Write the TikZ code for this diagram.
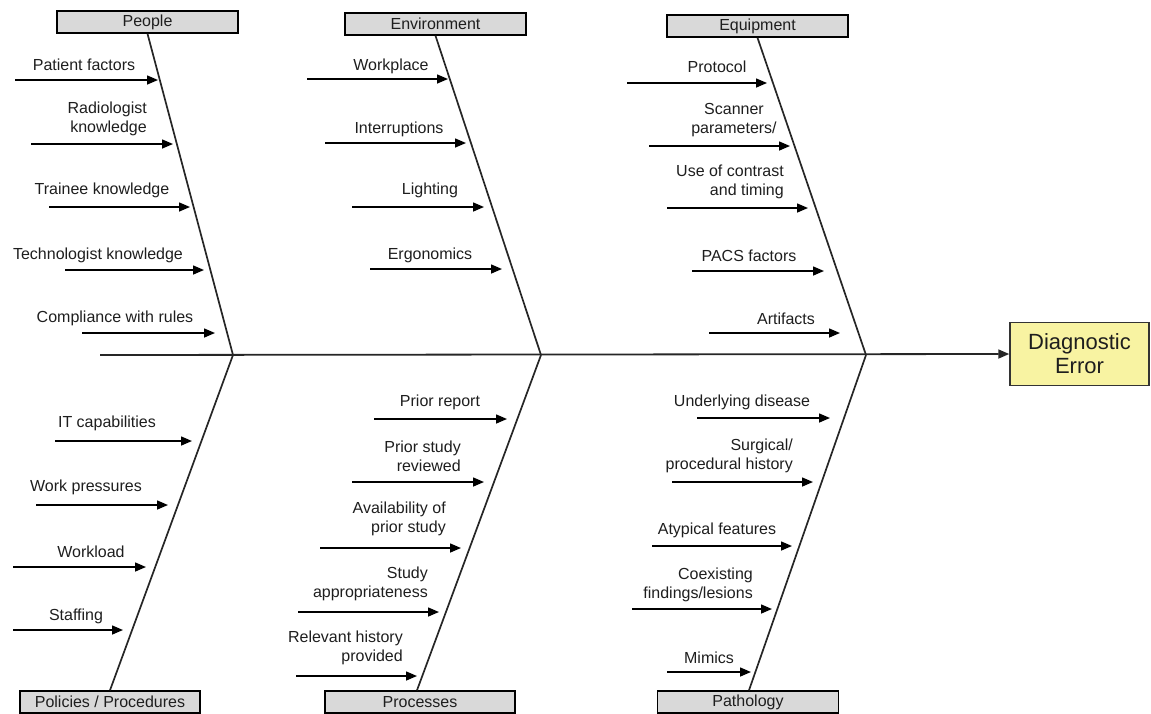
\documentclass[tikz,border=0pt]{standalone}
\usepackage{fontspec}
\setmainfont{Liberation Sans}
\usetikzlibrary{arrows.meta}
\definecolor{boxgray}{RGB}{217,217,217}
\definecolor{effyellow}{RGB}{248,243,162}
\definecolor{txt}{RGB}{30,30,30}
\begin{document}
\begin{tikzpicture}[x=1pt,y=-1pt,
  cat/.style={draw=black,line width=1.5pt,fill=boxgray,minimum width=181pt,minimum height=22pt,inner sep=0pt,font=\fontsize{16}{19}\selectfont,text=txt},
  lbl/.style={inner sep=0pt,font=\fontsize{16}{19}\selectfont,text=txt},
  bone/.style={line width=1.7pt,draw=black!85},
  arr/.style={line width=1.5pt,-{Triangle[length=11pt,width=9pt]}},
  effect/.style={draw=black!80,line width=1.5pt,fill=effyellow,minimum width=139pt,minimum height=63pt,inner sep=0pt,align=center,font=\fontsize{22}{25}\selectfont,text=txt}]
\useasboundingbox (0,0) rectangle (1151,713);

% effect and spine
\node[effect] (eff) at (1079.5,354) {Diagnostic\\[-1pt]Error};
\coordinate (tail) at (100,355);
\coordinate (j1) at (233,355);
\coordinate (j2) at (541,355);
\coordinate (j3) at (866,355);
\draw[arr,line width=1.8pt,draw=black!85] (tail) -- (eff.west);

% category boxes
\node[cat] (people) at (147.5,22) {People};
\node[cat] (env) at (435.5,24) {Environment};
\node[cat] (equip) at (757.5,26) {Equipment};
\node[cat,minimum width=180pt] (pol) at (110,702) {Policies / Procedures};
\node[cat,minimum width=190pt] (proc) at (420,702) {Processes};
\node[cat] (path) at (748,702) {Pathology};

% bones
\draw[bone] (people.south) -- (j1);
\draw[bone] (env.south) -- (j2);
\draw[bone] (equip.south) -- (j3);
\draw[bone] (pol.north) -- (j1);
\draw[bone] ([xshift=-3pt]proc.north) -- (j2);
\draw[bone] ([xshift=1pt]path.north) -- (j3);

% People causes
\coordinate (a1s) at (15,80);   \coordinate (a1e) at (158,80);
\coordinate (a2s) at (31,144);  \coordinate (a2e) at (173,144);
\coordinate (a3s) at (49,207);  \coordinate (a3e) at (190,207);
\coordinate (a4s) at (65,270);  \coordinate (a4e) at (204,270);
\coordinate (a5s) at (82,333);  \coordinate (a5e) at (215,333);
\node[lbl] (l1) at (84,65) {Patient factors};
\node[lbl,align=right,anchor=east] (l2) at (147,119) {Radiologist\\knowledge};
\node[lbl] (l3) at (102,190) {Trainee knowledge};
\node[lbl] (l4) at (98,255) {Technologist knowledge};
\node[lbl] (l5) at (115,318) {Compliance with rules};
\foreach \i in {1,...,5} {\draw[arr] (a\i s) -- (a\i e);}

% Environment causes
\coordinate (b1s) at (307,79);  \coordinate (b1e) at (448,79);
\coordinate (b2s) at (325,143); \coordinate (b2e) at (466,143);
\coordinate (b3s) at (352,207); \coordinate (b3e) at (484,207);
\coordinate (b4s) at (370,269); \coordinate (b4e) at (502,269);
\node[lbl] (m1) at (391,66) {Workplace};
\node[lbl] (m2) at (399,129) {Interruptions};
\node[lbl] (m3) at (430,190) {Lighting};
\node[lbl] (m4) at (430,255) {Ergonomics};
\foreach \i in {1,...,4} {\draw[arr] (b\i s) -- (b\i e);}

% Equipment causes
\coordinate (c1s) at (627,83);  \coordinate (c1e) at (767,83);
\coordinate (c2s) at (649,146); \coordinate (c2e) at (790,146);
\coordinate (c3s) at (667,208); \coordinate (c3e) at (808,208);
\coordinate (c4s) at (692,271); \coordinate (c4e) at (824,271);
\coordinate (c5s) at (709,333); \coordinate (c5e) at (840,333);
\node[lbl] (n1) at (717,67) {Protocol};
\node[lbl,align=center] (n2) at (734,120) {Scanner\\parameters/};
\node[lbl,align=right,anchor=east] (n3) at (784,182) {Use of contrast\\and timing};
\node[lbl] (n4) at (749,256) {PACS factors};
\node[lbl] (n5) at (786,319) {Artifacts};
\foreach \i in {1,...,5} {\draw[arr] (c\i s) -- (c\i e);}

% Policies causes
\coordinate (d1s) at (55,441);  \coordinate (d1e) at (192,441);
\coordinate (d2s) at (36,505);  \coordinate (d2e) at (168,505);
\coordinate (d3s) at (13,567);  \coordinate (d3e) at (146,567);
\coordinate (d4s) at (13,630);  \coordinate (d4e) at (123,630);
\node[lbl] (o1) at (107,423) {IT capabilities};
\node[lbl] (o2) at (86,487) {Work pressures};
\node[lbl] (o3) at (91,552) {Workload};
\node[lbl] (o4) at (76,616) {Staffing};
\foreach \i in {1,...,4} {\draw[arr] (d\i s) -- (d\i e);}

% Processes causes
\coordinate (e1s) at (374,419); \coordinate (e1e) at (507,419);
\coordinate (e2s) at (352,482); \coordinate (e2e) at (484,482);
\coordinate (e3s) at (320,548); \coordinate (e3e) at (461,548);
\coordinate (e4s) at (298,612); \coordinate (e4e) at (439,612);
\coordinate (e5s) at (296,676); \coordinate (e5e) at (417,676);
\node[lbl] (p1) at (440,402) {Prior report};
\node[lbl,align=right,anchor=east] (p2) at (461,456) {Prior study\\reviewed};
\node[lbl,align=right,anchor=east] (p3) at (446,519) {Availability of\\prior study};
\node[lbl,align=right,anchor=east] (p4) at (428,584) {Study\\appropriateness};
\node[lbl,align=right,anchor=east] (p5) at (403,648) {Relevant history\\provided};
\foreach \i in {1,...,5} {\draw[arr] (e\i s) -- (e\i e);}

% Pathology causes
\coordinate (f1s) at (697,418); \coordinate (f1e) at (830,418);
\coordinate (f2s) at (672,482); \coordinate (f2e) at (813,482);
\coordinate (f3s) at (652,546); \coordinate (f3e) at (792,546);
\coordinate (f4s) at (632,609); \coordinate (f4e) at (772,609);
\coordinate (f5s) at (667,672); \coordinate (f5e) at (751,672);
\node[lbl] (q1) at (742,402) {Underlying disease};
\node[lbl,align=right,anchor=east] (q2) at (793,456) {Surgical/\\procedural history};
\node[lbl] (q3) at (717,530) {Atypical features};
\node[lbl,align=right,anchor=east] (q4) at (753,585) {Coexisting\\findings/lesions};
\node[lbl] (q5) at (709,658) {Mimics};
\foreach \i in {1,...,5} {\draw[arr] (f\i s) -- (f\i e);}
\end{tikzpicture}
\end{document}
